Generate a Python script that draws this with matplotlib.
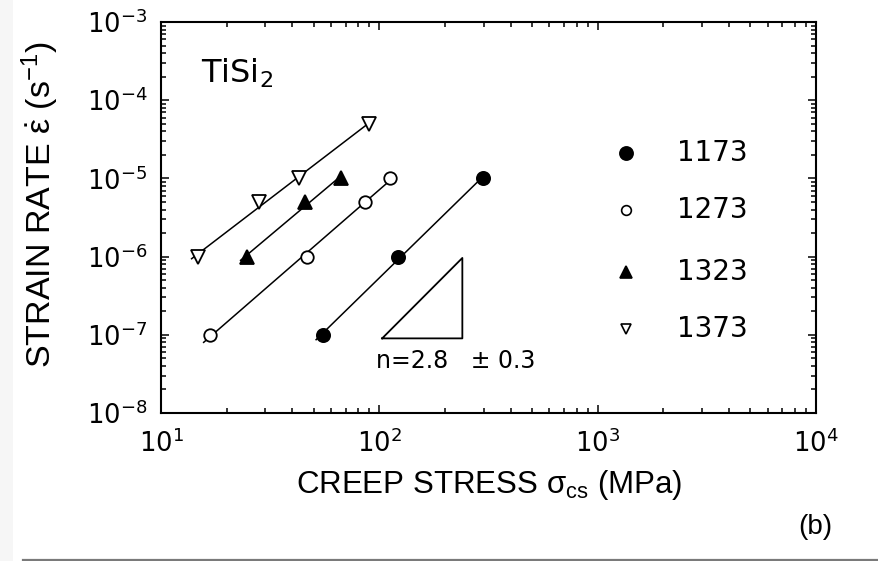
import numpy as np
import matplotlib
matplotlib.use("Agg")
import matplotlib.pyplot as plt
from matplotlib.patches import Rectangle
from matplotlib.lines import Line2D

# creep data for TiSi2, one series per test temperature (K)
temps = ["1173", "1273", "1323", "1373"]
stress_1173 = [55, 122, 297]
rate_1173 = [1e-7, 1e-6, 1e-5]
stress_1273 = [16.8, 46.7, 86, 112]
rate_1273 = [1e-7, 1e-6, 5e-6, 1e-5]
stress_1323 = [24.8, 45.5, 67]
rate_1323 = [1e-6, 5e-6, 1e-5]
stress_1373 = [14.8, 28, 42.7, 90]
rate_1373 = [1e-6, 5e-6, 1e-5, 5e-5]

# stress exponent guide triangle
n_exp = 2.8
slope_x = [103, 240]
slope_y0 = 9e-8

plt.rcParams["font.family"] = ["DejaVu Sans"]
plt.rcParams["mathtext.fontset"] = "custom"
plt.rcParams["mathtext.rm"] = "Liberation Sans"
plt.rcParams["mathtext.it"] = "Liberation Sans:italic"
plt.rcParams["mathtext.sf"] = "Liberation Sans"
plt.rcParams["mathtext.default"] = "regular"

fig = plt.figure(figsize=(8.79, 5.61), dpi=100)
fig.patch.set_facecolor("white")
ax = fig.add_axes([161/879, 1 - 413/561, 655/879, 391/561])

series = [
    (stress_1173, rate_1173, dict(marker="o", mfc="black", mec="black", ms=9.5)),
    (stress_1273, rate_1273, dict(marker="o", mfc="white", mec="black", ms=9)),
    (stress_1323, rate_1323, dict(marker="^", mfc="black", mec="black", ms=10)),
    (stress_1373, rate_1373, dict(marker="v", mfc="white", mec="black", ms=10)),
]
legend_ms = [9.5, 7, 8.5, 7]
legend_rows = [0.665, 0.519, 0.361, 0.215]

for sx, sy, style in series:
    lx, ly = np.log10(sx), np.log10(sy)
    k, b = np.polyfit(lx, ly, 1)
    xs = np.array([lx.min() - 0.03, lx.max()])
    ax.plot(10**xs, 10**(k*xs + b), color="black", lw=1.1, zorder=2)
    ax.plot(sx, sy, ls="none", mew=1.3, zorder=3, **style)

# slope triangle
tx0, tx1 = slope_x
ty1 = slope_y0 * (tx1 / tx0) ** n_exp
ax.plot([tx0, tx1, tx1, tx0], [slope_y0, slope_y0, ty1, slope_y0], color="black", lw=1.3)
ax.text(97, 4.6e-8, "n=2.8   \u00b1 0.3", fontsize=17, ha="left", va="center")

ax.text(15.3, 2.2e-4, r"TiSi$_2$", fontsize=23, ha="left", va="center")

# legend drawn by hand
for lab, (sx, sy, style), lms, yy in zip(temps, series, legend_ms, legend_rows):
    st = dict(style)
    st["ms"] = lms
    ax.plot([0.71], [yy], ls="none", transform=ax.transAxes, mew=1.2, **st)
    ax.text(0.788, yy, lab, transform=ax.transAxes, fontsize=20, ha="left", va="center")

ax.set_xscale("log")
ax.set_yscale("log")
ax.set_xlim(10, 1e4)
ax.set_ylim(1e-8, 1e-3)
ax.xaxis.set_major_locator(matplotlib.ticker.LogLocator(base=10, numticks=10))
ax.xaxis.set_minor_locator(matplotlib.ticker.LogLocator(base=10, subs=np.arange(2, 10), numticks=20))
ax.yaxis.set_major_locator(matplotlib.ticker.LogLocator(base=10, numticks=10))
ax.yaxis.set_minor_locator(matplotlib.ticker.LogLocator(base=10, subs=np.arange(2, 10), numticks=20))
ax.tick_params(which="both", direction="in", top=True, right=True, width=1.1)
ax.tick_params(which="major", length=6, labelsize=18.5)
ax.tick_params(axis="y", which="major", pad=10)
ax.tick_params(axis="x", which="major", pad=12)
ax.tick_params(which="minor", length=3.8)
for sp in ax.spines.values():
    sp.set_linewidth(1.5)

lab_font = ["Liberation Sans", "DejaVu Sans"]
fig.text(40/879, 1 - 205/561, r"STRAIN RATE $\dot{\varepsilon}$ (s$^{-1}$)", rotation=90,
         fontsize=24.5, ha="center", va="center", family=lab_font)
fig.text(489/879, 1 - 485/561, r"CREEP STRESS $\sigma_{cs}$ (MPa)",
         fontsize=22.5, ha="center", va="center", family=lab_font)
fig.text(815/879, 1 - 527/561, "(b)", fontsize=20, ha="center", va="center", family=lab_font)

# scan edge and bottom rule
fig.patches.append(Rectangle((0, 0), 13/879, 1, transform=fig.transFigure,
                             facecolor="#f6f6f6", edgecolor="none", zorder=0))
fig.lines.append(Line2D([23/879, 1], [1.5/561, 1.5/561], transform=fig.transFigure,
                        color="#7a7a7a", lw=1.6))

fig.savefig("out.png", dpi=100)
